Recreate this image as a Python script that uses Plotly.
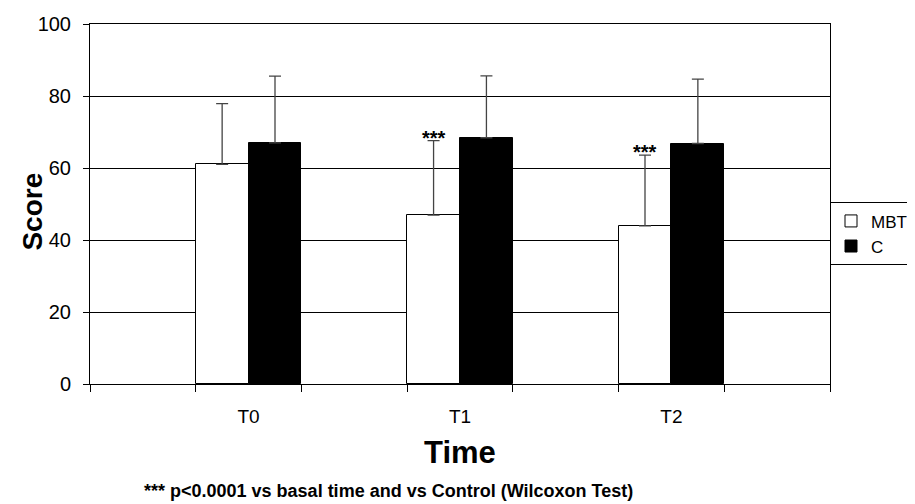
import plotly.graph_objects as go

categories = [" ", "T0", "  ", "T1", "   ", "T2", "    "]
times = ["T0", "T1", "T2"]
mbt_mean = [61.0, 46.9, 43.9]
mbt_sd = [16.9, 20.7, 19.7]
c_mean = [67.0, 68.4, 66.8]
c_sd = [18.5, 17.2, 17.9]
star_labels = ["", "***", "***"]
y_ticks = [0, 20, 40, 60, 80, 100]

FONT = "Liberation Sans, Arial, sans-serif"

fig = go.Figure()
fig.add_trace(go.Bar(
    name="MBT", x=times, y=mbt_mean,
    marker=dict(color="white", line=dict(color="black", width=1)),
    error_y=dict(type="data", symmetric=False, array=mbt_sd,
                 arrayminus=[0] * len(mbt_sd), color="#444", thickness=1.3, width=6),
))
fig.add_trace(go.Bar(
    name="C", x=times, y=c_mean,
    marker=dict(color="black", line=dict(color="black", width=1)),
    error_y=dict(type="data", symmetric=False, array=c_sd,
                 arrayminus=[0] * len(c_sd), color="#444", thickness=1.3, width=6),
))

annotations = []
for t, m, s, lab in zip(times, mbt_mean, mbt_sd, star_labels):
    if lab:
        idx = categories.index(t)
        annotations.append(dict(
            x=idx - 0.25, y=m + s, xref="x", yref="y", text="<b>" + lab + "</b>",
            showarrow=False, yanchor="bottom", yshift=-10,
            font=dict(family=FONT, size=20, color="black"),
        ))

annotations += [
    dict(x=0.5, y=-0.189, xref="paper", yref="paper", text="<b>Time</b>",
         showarrow=False, xanchor="center", yanchor="middle",
         font=dict(family=FONT, size=31, color="black")),
    dict(x=-0.077, y=0.479, xref="paper", yref="paper", text="<b>Score</b>",
         showarrow=False, textangle=-90, xanchor="center", yanchor="middle",
         font=dict(family=FONT, size=28, color="black")),
    dict(x=0.404, y=-0.297, xref="paper", yref="paper",
         text="<b>*** p<0.0001 vs basal time and vs Control (Wilcoxon Test)</b>",
         showarrow=False, xanchor="center", yanchor="middle",
         font=dict(family=FONT, size=18, color="black")),
]

fig.update_layout(
    width=907, height=496,
    margin=dict(l=82, r=85, t=16, b=120, autoexpand=False),
    paper_bgcolor="white", plot_bgcolor="white",
    barmode="group", bargap=0, bargroupgap=0,
    font=dict(family=FONT, size=19, color="black"),
    showlegend=True,
    legend=dict(x=1.0, y=0.417, xanchor="left", yanchor="middle",
                bordercolor="black", borderwidth=1, bgcolor="white",
                font=dict(family=FONT, size=17, color="black"),
                itemwidth=30, tracegroupgap=0),
    annotations=annotations,
)
fig.update_xaxes(
    type="category", categoryorder="array", categoryarray=categories,
    range=[-0.5, len(categories) - 0.5],
    tickson="boundaries", ticks="outside", ticklen=7, tickcolor="black",
    showline=True, linecolor="black", linewidth=1, mirror=True,
    showgrid=False, ticklabelstandoff=15,
    tickfont=dict(family=FONT, size=19, color="black"),
)
fig.update_yaxes(
    range=[0, 100], tickvals=y_ticks, ticks="outside", ticklen=6, tickcolor="black",
    showline=True, linecolor="black", linewidth=1, mirror=True,
    showgrid=True, gridcolor="black", gridwidth=1, zeroline=False,
    ticklabelstandoff=8,
    tickfont=dict(family=FONT, size=20, color="black"),
)

fig.write_html("out.html")
